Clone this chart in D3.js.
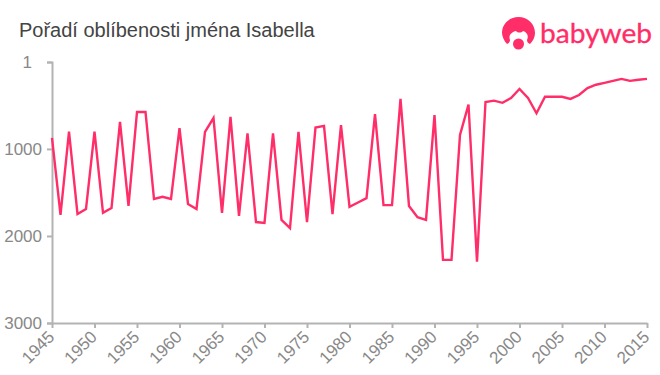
<!DOCTYPE html>
<html>
<head>
<meta charset="utf-8">
<script src="https://cdn.jsdelivr.net/npm/d3@7"></script>
<style>
  html, body { margin: 0; padding: 0; background: #fff; }
  svg { display: block; font-family: "Liberation Sans", Arial, sans-serif; }
</style>
</head>
<body>
<svg id="chart" width="660" height="375"></svg>
<script>
const title = 'Pořadí oblíbenosti jména Isabella';
const years = d3.range(1945, 2016);
const ranks = [873, 1758, 800, 1747, 1690, 800, 1735, 1680, 690, 1655,
  575, 575, 1575, 1550, 1575, 760, 1632, 1690, 805, 645,
  1735, 630, 1770, 820, 1840, 1850, 820, 1815, 1910, 805,
  1840, 755, 735, 1750, 725, 1665, 1615, 1565, 600, 1645,
  1645, 425, 1655, 1785, 1815, 610, 2275, 2275, 840, 490,
  2295, 460, 445, 470, 415, 310, 415, 590, 400, 400,
  400, 425, 380, 300, 262, 240, 218, 195, 218, 205, 195];
const yTicks = [1, 1000, 2000, 3000];
const xTicks = d3.range(1945, 2016, 5);

const pink = '#ff2d68';
const svg = d3.select('#chart');
const padding = { top: 62, right: 13, bottom: 52, left: 52 };
const width = +svg.attr('width');
const height = +svg.attr('height');

let xScale = d3.scaleLinear()
  .domain([1945, 2015])
  .range([padding.left, width - padding.right]);

let yScale = d3.scaleLinear()
  .domain([1, 3000])
  .range([padding.top, height - padding.bottom]);

svg.append('text')
  .attr('x', 19)
  .attr('y', 37)
  .attr('font-size', 20)
  .attr('fill', '#444')
  .text(title);

let xAxis = d3.axisBottom(xScale)
  .tickValues(xTicks)
  .tickFormat(d3.format('d'))
  .tickSize(5)
  .tickSizeOuter(0);

let yAxis = d3.axisLeft(yScale)
  .tickValues(yTicks)
  .tickFormat(d3.format('d'))
  .tickSize(5)
  .tickPadding(5)
  .tickSizeOuter(5);

let gx = svg.append('g')
  .attr('transform', `translate(0,${height - padding.bottom})`)
  .call(xAxis);

let gy = svg.append('g')
  .attr('transform', `translate(${padding.left},0)`)
  .call(yAxis);

[gx, gy].forEach(g => {
  g.selectAll('.domain, .tick line')
    .attr('stroke', '#b3b3b3')
    .attr('stroke-width', 2);
  g.selectAll('text')
    .attr('fill', '#888')
    .attr('font-size', 17)
    .attr('font-family', '"Liberation Sans", Arial, sans-serif');
});

gx.selectAll('text')
  .attr('text-anchor', 'end')
  .attr('x', -8.5)
  .attr('y', 12.7)
  .attr('dy', 0)
  .attr('transform', 'rotate(-45)');

// the "1" sits further left than the other labels in the original
gy.selectAll('text')
  .filter(d => d === 1)
  .attr('dx', -10);

let line = d3.line()
  .x((d, i) => xScale(years[i]))
  .y(d => yScale(d));

svg.append('path')
  .datum(ranks)
  .attr('fill', 'none')
  .attr('stroke', pink)
  .attr('stroke-width', 2.4)
  .attr('d', line);

// logo
let logo = svg.append('g');

logo.append('path')
  .attr('fill', pink)
  .attr('d', 'M507 44 C504 41 502 36 502 33 C502 24 509 17 518.5 17 C528 17 535 24 535 33 C535 37 533 41 530 44 C528 43 527 42 527 40 C529 36 527 32 523 31 C521 33 518 33 516 31 C512 32 508 35 510 40 C510 42 509 43 507 44 Z');

logo.append('circle')
  .attr('cx', 518.5)
  .attr('cy', 44)
  .attr('r', 5.5)
  .attr('fill', pink);

logo.append('text')
  .attr('x', 540)
  .attr('y', 43)
  .attr('font-family', 'Lato, "Noto Sans", sans-serif')
  .attr('font-size', 26)
  .attr('textLength', 112)
  .attr('lengthAdjust', 'spacingAndGlyphs')
  .attr('fill', pink)
  .attr('stroke', pink)
  .attr('stroke-width', 0.3)
  .text('babyweb');
</script>
</body>
</html>
